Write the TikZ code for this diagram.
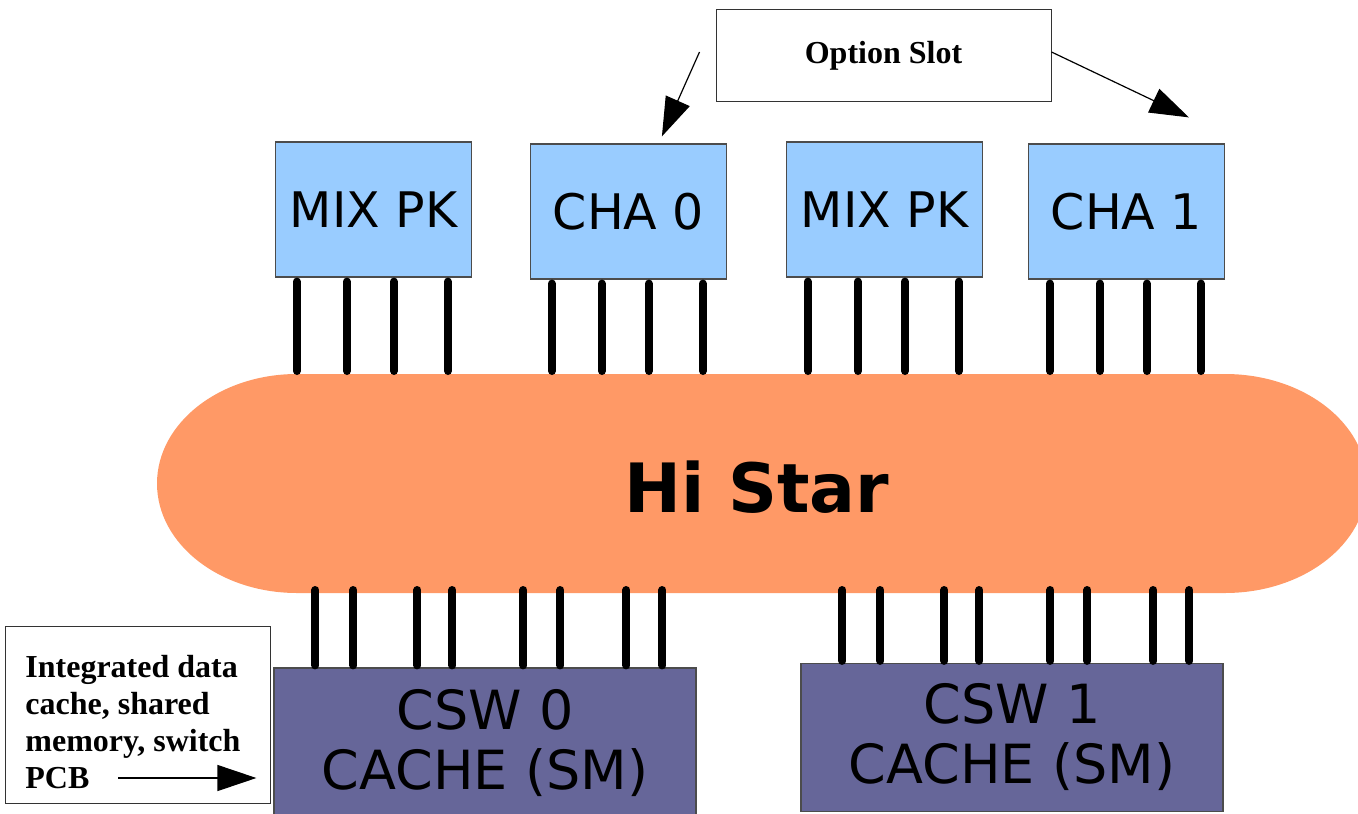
\documentclass[tikz,border=0pt]{standalone}
\usepackage{fontspec}
\newfontfamily\boxfont{DejaVu Sans}
\newfontfamily\notefont{Liberation Serif}
\usetikzlibrary{arrows.meta,positioning}
\definecolor{slotblue}{HTML}{99CCFF}
\definecolor{starorange}{HTML}{FF9966}
\definecolor{cswpurple}{HTML}{666699}
\tikzset{
  >={Triangle[length=19.5pt,width=13pt]},
}
\tikzstyle{card}=[draw=black!70,line width=0.6pt,fill=slotblue,inner sep=0pt,minimum width=98pt,minimum height=67.5pt,font=\boxfont\fontsize{24.5}{29}\selectfont]
\tikzstyle{csw}=[draw=black!70,line width=0.6pt,fill=cswpurple,inner sep=0pt,minimum width=211pt,align=center,font=\boxfont\fontsize{27}{30}\selectfont]
\tikzstyle{note}=[draw=black!80,line width=0.5pt,fill=white,inner sep=0pt]
\tikzstyle{notetext}=[font=\notefont\bfseries\fontsize{16}{18.4}\selectfont]
\tikzstyle{pin}=[line width=4pt,line cap=round]
\tikzstyle{pointer}=[line width=0.6pt,->]

\begin{document}
\begin{tikzpicture}[x=0.5pt,y=-0.5pt]
        \useasboundingbox (0,0) rectangle (1358,813);
        \begin{scope}
          \clip (0,0) rectangle (1358,813);
          % bus
          \fill[starorange] (297,374) -- (1225,374)
            arc[start angle=-90,end angle=90,x radius=142,y radius=109.5]
            -- (297,593)
            arc[start angle=90,end angle=270,x radius=140,y radius=109.5] -- cycle;
          \node[font=\boxfont\bfseries\fontsize{34}{40}\selectfont] (histar) at (757,487) {Hi Star};
          \coordinate (startop) at (0,371);
          \coordinate (starbot) at (0,590);
          % boards
          \node[card] (mixa) at (373.5,209.5) {MIX PK};
          \node[card] (cha0) at (628.5,211.5) {CHA 0};
          \node[card] (mixb) at (884.5,209.5) {MIX PK};
          \node[card] (cha1) at (1126.5,211.5) {CHA 1};
          \node[csw,minimum height=75pt] (csw0) at (485,743) {CSW 0\\CACHE (SM)};
          \node[csw,minimum height=74pt] (csw1) at (1012,737.5) {CSW 1\\CACHE (SM)};
        \end{scope}
        % pins
        \foreach \b in {mixa,cha0,mixb,cha1}
          \foreach \dx in {22,72,119,173}
            \draw[pin] ([shift={(\dx,4)}]\b.south west) coordinate (p) -- (p |- startop);
        \foreach \b in {csw0,csw1}
          \foreach \dx in {42,80,144,179,250,287,353,389}
            \draw[pin] ([shift={(\dx,-2)}]\b.north west) coordinate (p) -- (p |- starbot);
        % option slot
        \node[note,minimum width=167.5pt,minimum height=46pt,notetext] (slot) at (883.5,56) {Option Slot};
        \draw[pointer] ([shift={(-16,-4)}]slot.west) -- ([shift={(132,-7)}]cha0.north west);
        \draw[pointer] ([shift={(0,-4)}]slot.east) -- ([shift={(161,-26)}]cha1.north west);
        % note
        \node[note,minimum width=132.5pt,minimum height=88.5pt] (notebox) at (137.5,714.5) {};
        \node[notetext,anchor=north west,align=left,inner sep=0pt] (notelines) at (25,655) {Integrated data\\cache, shared\\memory, switch\\PCB};
        \coordinate (pcbtail) at (118,778);
        \draw[pointer] (pcbtail) -- ([xshift=-8.5pt]csw0.west |- pcbtail);
      \end{tikzpicture}
\end{document}
